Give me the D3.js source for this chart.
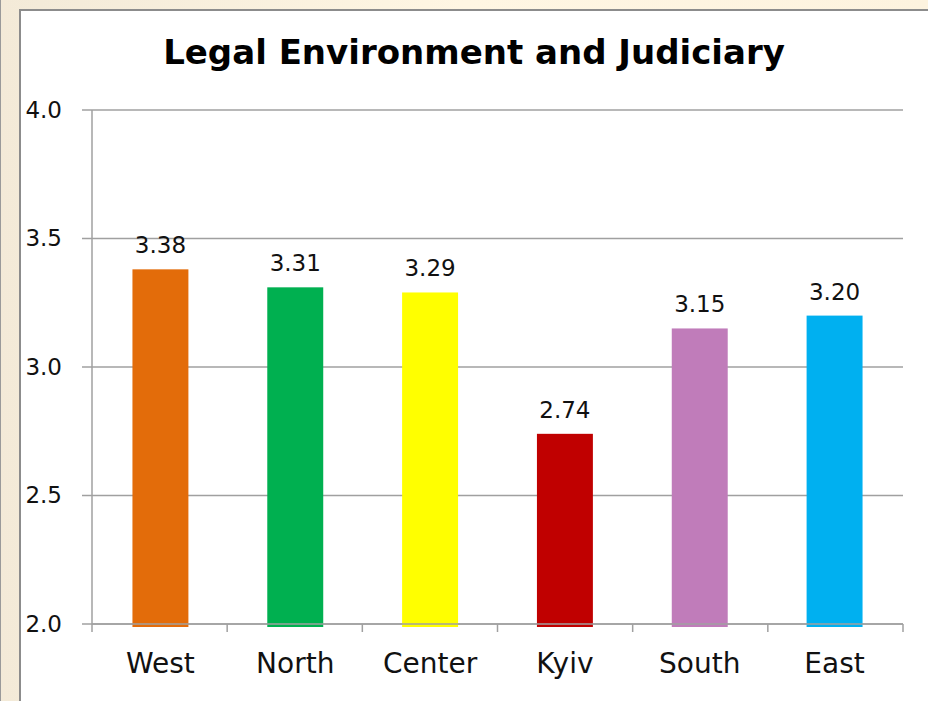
<!DOCTYPE html>
<html>
<head>
<meta charset="utf-8">
<script src="https://cdn.jsdelivr.net/npm/d3@7"></script>
<style>
  html, body { margin: 0; padding: 0; background: #fdf3df; }
  svg { display: block; }
</style>
</head>
<body>
<div id="chart"></div>
<script>
// chart data
var regions = ["West", "North", "Center", "Kyiv", "South", "East"];
var scores = [3.38, 3.31, 3.29, 2.74, 3.15, 3.20];
var barColors = ["#e36c0a", "#00b050", "#ffff00", "#c00000", "#c07cba", "#00b0f0"];
var yTicks = [2.0, 2.5, 3.0, 3.5, 4.0];
var title = "Legal Environment and Judiciary";

var W = 928, H = 701;
var margin = {top: 110, right: 25, bottom: 77, left: 92};

var svg = d3.select("#chart").append("svg")
    .attr("width", W)
    .attr("height", H);

// page background + white panel
var defs = svg.append("defs");
var grad = defs.append("linearGradient").attr("id", "bg")
    .attr("x1", "0").attr("y1", "0").attr("x2", "1").attr("y2", "0");
grad.append("stop").attr("offset", "0").attr("stop-color", "#f3ead8");
grad.append("stop").attr("offset", "0.5").attr("stop-color", "#fff6e3");
grad.append("stop").attr("offset", "1").attr("stop-color", "#fdf3df");
svg.append("rect").attr("width", W).attr("height", H).attr("fill", "url(#bg)");
svg.append("line").attr("x1", 0.5).attr("x2", 0.5).attr("y1", 0).attr("y2", H)
    .attr("stroke", "#9a9a9a").attr("stroke-width", 1);
svg.append("rect")
    .attr("x", 20).attr("y", 10)
    .attr("width", W).attr("height", H)
    .attr("fill", "#fff")
    .attr("stroke", "#8c8c8c").attr("stroke-width", 2);

var width = W - margin.left - margin.right,
    height = H - margin.top - margin.bottom;

var g = svg.append("g").attr("transform", "translate(" + margin.left + "," + margin.top + ")");

var x = d3.scaleBand().domain(regions).range([0, width]).paddingInner(0.585).paddingOuter(0.3);
var y = d3.scaleLinear().domain([2, 4]).range([height, 0]);

// gridlines
g.selectAll(".grid")
    .data(yTicks)
    .enter().append("line")
    .attr("x1", -10).attr("x2", width)
    .attr("y1", function (d) { return y(d); })
    .attr("y2", function (d) { return y(d); })
    .attr("stroke", "#a0a0a0").attr("stroke-width", 1.5);

// bars
g.selectAll(".bar")
    .data(regions)
    .enter().append("rect")
    .attr("x", function (d) { return x(d); })
    .attr("y", function (d, i) { return y(scores[i]); })
    .attr("width", x.bandwidth())
    .attr("height", function (d, i) { return height - y(scores[i]) + 3; })
    .attr("fill", function (d, i) { return barColors[i]; });

// value labels
g.selectAll(".val")
    .data(regions)
    .enter().append("text")
    .attr("x", function (d) { return x(d) + x.bandwidth() / 2; })
    .attr("y", function (d, i) { return y(scores[i]) - 16; })
    .attr("text-anchor", "middle")
    .style("font-family", "DejaVu Sans")
    .style("font-size", "23px")
    .attr("fill", "#111")
    .text(function (d, i) { return scores[i].toFixed(2); });

// y axis
var yAxis = g.append("g")
    .call(d3.axisLeft(y).tickValues(yTicks).tickFormat(d3.format(".1f")).tickSize(10).tickPadding(20));
yAxis.select(".domain").attr("stroke", "#a0a0a0").attr("stroke-width", 1.5).attr("d", "M0," + height + "V0");
yAxis.selectAll(".tick line").remove();
yAxis.selectAll("text")
    .style("font-family", "DejaVu Sans")
    .style("font-size", "23px")
    .attr("fill", "#111");

// x axis with boundary ticks
var xAxis = g.append("g")
    .attr("transform", "translate(0," + height + ")")
    .call(d3.axisBottom(x).tickSize(0).tickPadding(29));
xAxis.select(".domain").attr("stroke", "#a0a0a0").attr("stroke-width", 1.5).attr("d", "M0,0H" + width);
xAxis.selectAll("text")
    .style("font-family", "DejaVu Sans")
    .style("font-size", "28px")
    .attr("fill", "#111");
var step = x.step();
xAxis.selectAll(".sep")
    .data(d3.range(regions.length + 1))
    .enter().append("line")
    .attr("x1", function (i) { return i * width / regions.length; })
    .attr("x2", function (i) { return i * width / regions.length; })
    .attr("y1", 0).attr("y2", 8)
    .attr("stroke", "#a0a0a0").attr("stroke-width", 1.5);

// title
svg.append("text")
    .attr("x", 474).attr("y", 64)
    .attr("text-anchor", "middle")
    .style("font-family", "DejaVu Sans")
    .style("font-weight", "bold")
    .style("font-size", "34px")
    .attr("fill", "#000")
    .text(title);
</script>
</body>
</html>
